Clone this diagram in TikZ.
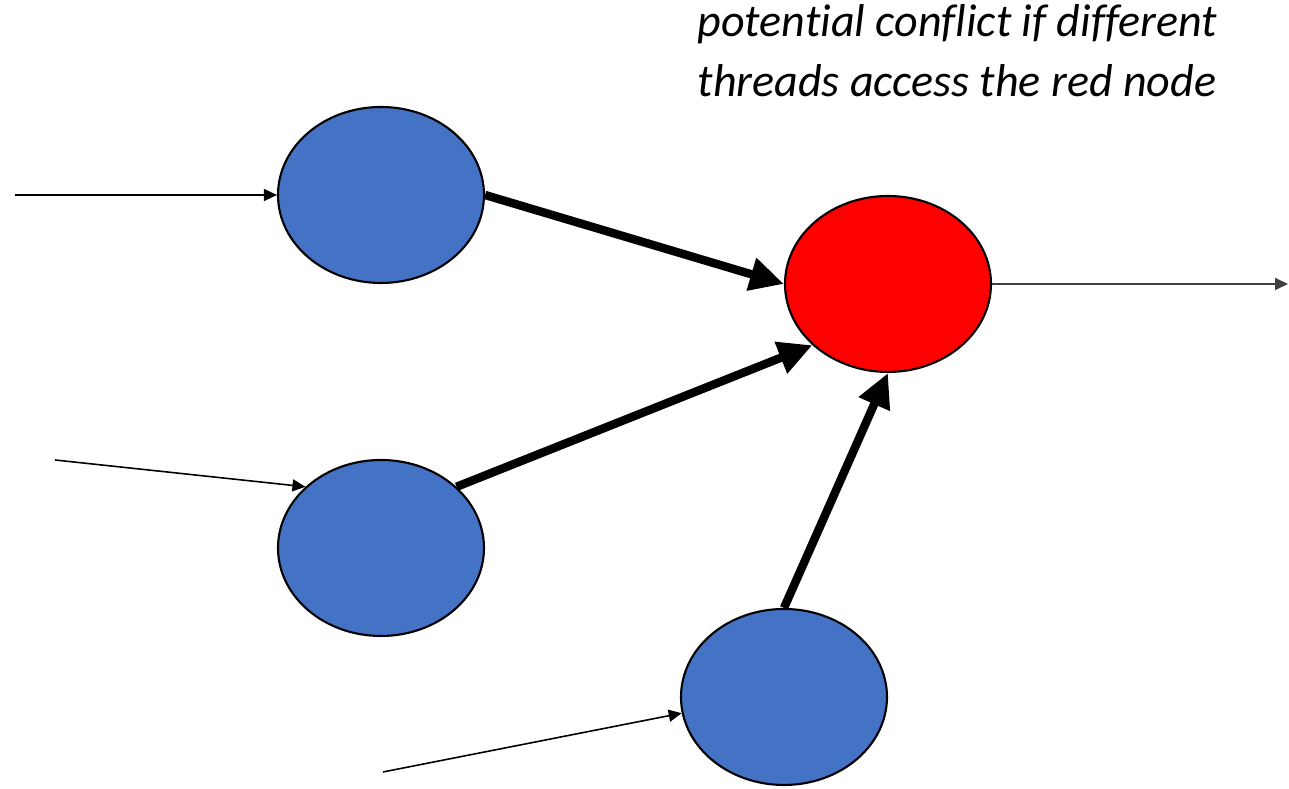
\documentclass[tikz,border=0pt]{standalone}
\usepackage{fontspec}
\setmainfont[Ligatures={NoCommon}]{Carlito}
\usetikzlibrary{arrows.meta,positioning,shapes.geometric}
\definecolor{nodeblue}{HTML}{4472C4}
\definecolor{nodered}{HTML}{FF0000}
\definecolor{outgrey}{HTML}{404040}

\begin{document}
\begin{tikzpicture}[every node/.style={font=\fontsize{13.1}{17}\selectfont},task/.style={ellipse,draw=black,line width=0.6pt,fill=nodeblue,minimum width=2.06cm,minimum height=1.76cm,inner sep=0pt},thin/.style={-{Triangle[length=0.13cm,width=0.12cm]},black,line width=0.45pt},thick/.style={-{Triangle[length=0.34cm,width=0.32cm]},black,line width=2.4pt}]
\useasboundingbox (0,0) rectangle (12.89,7.89);
\node[task] (a) at (3.81,5.94) {};
\node[task] (b) at (3.81,2.41) {};
\node[task] (c) at (7.84,0.92) {};
\node[task,fill=nodered] (r) at (8.88,5.05) {};
\coordinate (ina) at (0.15,5.94);
\coordinate (inb) at (0.55,3.29);
\coordinate (inc) at (3.83,0.17);
\coordinate (outr) at (12.88,5.05);
\node[anchor=north west,align=left,inner sep=0pt,font=\fontsize{13.1}{17}\selectfont\itshape] (note) at (6.97,7.85) {potential conflict if different\\threads access the red node};
\draw[thin] (ina) -- (a);
\draw[thin] (inb) -- (b.141);
\draw[thin] (inc) -- (c.189);
\draw[thin,outgrey] (r) -- (outr);
\draw[thick] (a.east) -- (r.west);
\draw[thick] (b.39) -- (r.219);
\draw[thick] (c.north) -- (r.south);
\end{tikzpicture}
\end{document}
